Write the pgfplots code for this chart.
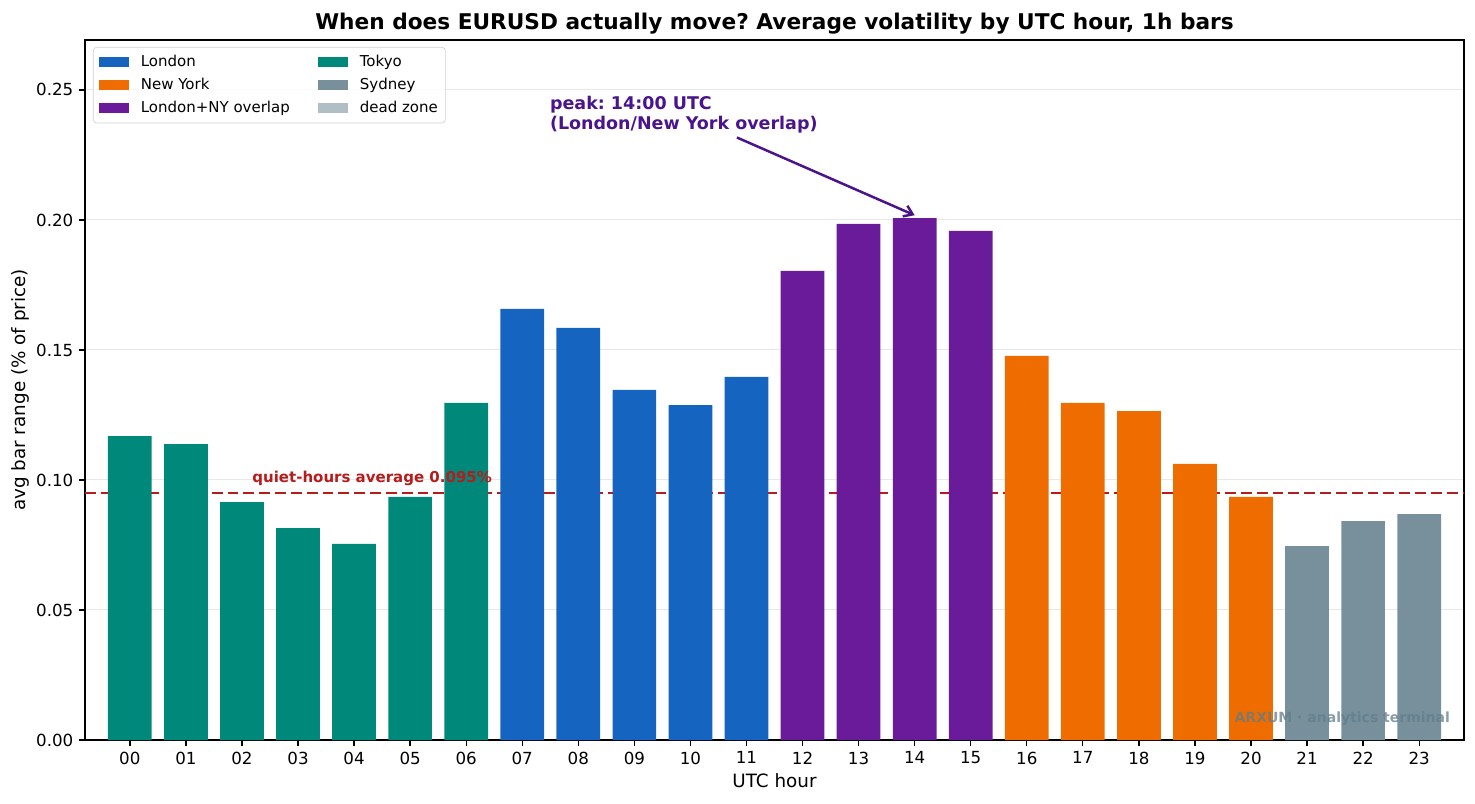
\documentclass[border=0pt]{standalone}
\usepackage{fontspec}
\setmainfont{DejaVu Sans}
\usepackage{pgfplots}
\pgfplotsset{compat=1.18}
\usetikzlibrary{arrows.meta}

\definecolor{london}{HTML}{1565C0}
\definecolor{newyork}{HTML}{EF6C00}
\definecolor{overlap}{HTML}{6A1B9A}
\definecolor{tokyo}{HTML}{00897B}
\definecolor{sydney}{HTML}{78909C}
\definecolor{deadzone}{HTML}{B0BEC5}
\definecolor{quiet}{HTML}{B71C1C}
\definecolor{peak}{HTML}{4A148C}
\definecolor{wmark}{HTML}{607D8B}

\frenchspacing
\begin{document}
\begin{tikzpicture}
  \begin{axis}[
      name=ax,
      scale only axis,
      width=827.4pt, height=420pt,
      xmin=-0.8, xmax=23.8,
      ymin=0, ymax=0.2692,
      axis line style={black, line width=0.8pt},
      tick style={black, line width=0.8pt},
      tick align=outside,
      major tick length=3.5pt,
      xtick={0,...,23},
      xticklabels={00,01,02,03,04,05,06,07,08,09,10,11,12,13,14,15,16,17,18,19,20,21,22,23},
      x tick label style={font=\fontsize{10}{12}\selectfont},
      ytick={0,0.05,0.1,0.15,0.2,0.25},
      yticklabel style={font=\fontsize{10}{12}\selectfont, /pgf/number format/.cd, fixed, fixed zerofill, precision=2},
      /pgf/number format/assume math mode=true,
      xtick pos=bottom, ytick pos=left,
      ymajorgrids,
      grid style={gray!18, line width=0.6pt},
      xlabel={UTC hour},
      ylabel={avg bar range (\% of price)},
      every axis x label/.style={at={(axis description cs:0.5,-0.0586)}, anchor=center, font=\fontsize{11}{13}\selectfont},
      every axis y label/.style={at={(axis description cs:-0.0471,0.5)}, rotate=90, anchor=center, font=\fontsize{11}{13}\selectfont},
      legend columns=2,
      legend cell align=left,
      legend image code/.code={
        \fill[#1, sharp corners, draw=none, fill opacity=1] (2.5pt,-3.2pt) rectangle (20.5pt,3.2pt);
        \path[draw=none, fill=none] (0pt,0pt) -- (24pt,0pt);
      },
      legend style={
        at={(axis description cs:0.0058,0.99)}, anchor=north west,
        draw=gray!35, rounded corners=2pt, fill=white, fill opacity=0.8, text opacity=1,
        font=\fontsize{9}{10}\selectfont,
        nodes={inner ysep=2.6pt, inner xsep=3.5pt, text height=6.8pt, text depth=1.8pt},
        /tikz/every even column/.append style={column sep=11pt},
        inner xsep=1pt, inner ysep=2pt,
      },
    ]

    % quiet-hours reference line (behind the bars)
    \addplot[quiet, line width=1.1pt, dash pattern=on 6.5pt off 3pt, forget plot]
      coordinates {(-0.8,0.095) (23.8,0.095)};

    % Tokyo
    \addplot[ybar, bar width=0.78, fill=tokyo, draw=none, forget plot] coordinates {
      (0,0.1169) (1,0.1138) (2,0.0915) (3,0.0815) (4,0.0754) (5,0.0935) (6,0.1296)
    };
    % London
    \addplot[ybar, bar width=0.78, fill=london, draw=none, forget plot] coordinates {
      (7,0.1658) (8,0.1585) (9,0.1346) (10,0.1288) (11,0.1396)
    };
    % London+NY overlap
    \addplot[ybar, bar width=0.78, fill=overlap, draw=none, forget plot] coordinates {
      (12,0.1804) (13,0.1985) (14,0.2007) (15,0.1958)
    };
    % New York
    \addplot[ybar, bar width=0.78, fill=newyork, draw=none, forget plot] coordinates {
      (16,0.1477) (17,0.1296) (18,0.1265) (19,0.1062) (20,0.0935)
    };
    % Sydney
    \addplot[ybar, bar width=0.78, fill=sydney, draw=none, forget plot] coordinates {
      (21,0.0746) (22,0.0842) (23,0.0869)
    };

    % legend, row-wise order so the columns read as in the original
    \addlegendimage{fill=london}   \addlegendentry{London}
    \addlegendimage{fill=tokyo}    \addlegendentry{Tokyo}
    \addlegendimage{fill=newyork}  \addlegendentry{New York}
    \addlegendimage{fill=sydney}   \addlegendentry{Sydney}
    \addlegendimage{fill=overlap}  \addlegendentry{London+NY overlap}
    \addlegendimage{fill=deadzone} \addlegendentry{dead zone}

    \node[anchor=base west, text=quiet, font=\fontsize{9}{10}\selectfont\bfseries, inner sep=0pt]
      at (axis cs:2.18,0.0992) {quiet-hours average 0.095\%};

    \node[anchor=base west, text=peak, align=left, font=\fontsize{10.5}{12}\selectfont\bfseries, inner sep=0pt]
      at (axis cs:7.49,0.2346) {peak: 14:00 UTC\\(London/New York overlap)};
    \draw[peak, line width=1.5pt, -{Straight Barb[length=5pt, width=7pt]}]
      (axis cs:10.83,0.2317) -- (axis cs:14,0.2018);

    \node[anchor=south east, text=wmark, text opacity=0.75, font=\fontsize{8.4}{10}\selectfont\bfseries, inner sep=0pt]
      at (axis description cs:0.99,0.02) {ARXUM · analytics terminal};
  \end{axis}
  \path (ax.north) ++(0pt,6pt) node[anchor=base, inner sep=0pt, font=\fontsize{13}{15}\selectfont\bfseries]
    {When does EURUSD actually move? Average volatility by UTC hour, 1h bars};
  \pgfresetboundingbox
  \path (ax.south west) ++(-51pt,-37.8pt) coordinate (bbA);
  \path (ax.north east) ++(6.6pt,24pt) coordinate (bbB);
  \useasboundingbox (bbA) rectangle (bbB);
\end{tikzpicture}
\end{document}
